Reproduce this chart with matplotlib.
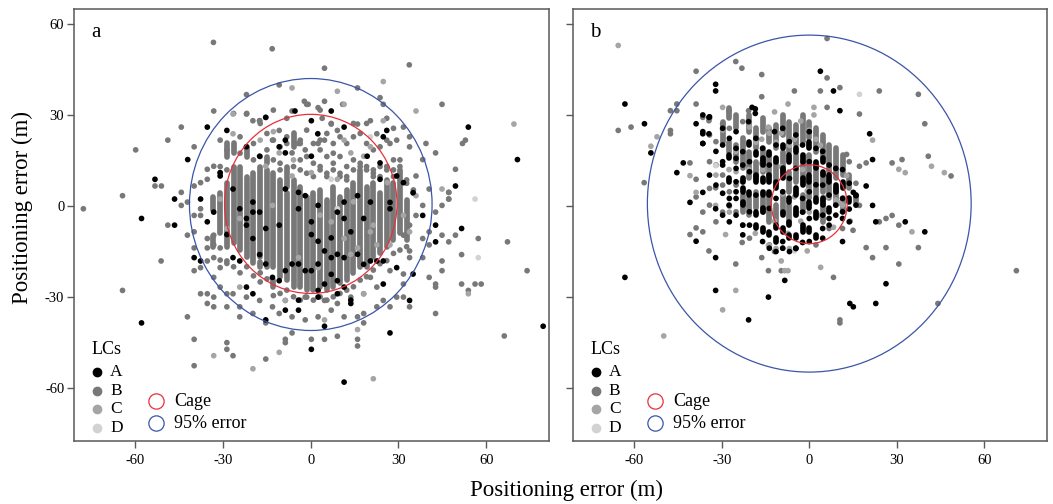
import matplotlib
matplotlib.use("Agg")
import matplotlib.pyplot as plt
from matplotlib.patches import Circle

plt.rcParams['font.family'] = ['Liberation Serif', 'DejaVu Serif']
plt.rcParams['axes.unicode_minus'] = False

# ---------------- DATA ----------------
lc_colors = {"A": "#000000", "B": "#787878", "C": "#a5a5a5", "D": "#d2d2d2"}
x_ticks = [-60, -30, 0, 30, 60]
y_ticks = [-60, -30, 0, 30, 60]
panel_labels = ["a", "b"]

# circles: (center_x, center_y, radius)
cage_a = (0.0, 0.7, 29.5)
err95_a = (0.0, 0.5, 41.5)
cage_b = (0.0, 0.6, 13.0)
err95_b = (0.0, 0.8, 55.5)

# ---- panel a: stacked columns of class B fixes (x, y_low, y_high) ----
a_B_runs_x = [-33.3, -33.3, -31.0, -28.7, -28.7, -26.4, -26.4, -24.2, -21.9, -21.9, -19.6,
              -17.3, -17.3, -15.0, -15.0, -12.8, -12.8, -10.5, -8.2, -8.2, -5.9, -5.9, -3.6,
              -1.4, 0.9, 3.2, 5.5, 7.7, 10.0, 12.3, 14.6, 16.9, 19.1, 21.4, 23.7, 26.0, 28.3,
              30.5, 32.8]
a_B_runs_lo = [-1.3, -13.4, -9.0, -13.4, 16.3, -12.3, 17.4, -14.5, -16.7, 16.3, -18.9,
               -16.7, -20.2, -20.0, 14.1, -20.0, -26.6, -23.3, -24.4, 6.4, -26.6, 19.5, -26.6,
               -27.7, -27.7, -26.6, -27.7, -26.6, -25.5, -24.4, -22.2, -20.0, -20.0, -16.7, -15.6,
               -13.4, -11.2, -9.0, -11.2]
a_B_runs_hi = [3.1, -10.0, 4.2, 7.5, 20.6, 13.0, 20.6, 13.0, 9.7, 19.5, 10.8,
               13.0, -18.5, 11.9, 16.3, 10.8, -24.4, 8.6, 4.2, 13.0, 8.6, 23.9, 6.4,
               3.1, 4.2, 5.3, 2.0, 6.4, 3.1, 5.3, 7.5, 11.9, 6.4, 7.5, 4.2,
               8.6, 7.5, 11.9, 2.0]

# ---- panel a: individual fixes ----
a_B_x = [-33.3, -13.2, 4.7, 33.7, -10.8, 16.0, -22.0, -2.2, -0.9, 4.7, 2.5, 23.7, 24.8, 44.9,
         -33.2, -22.0, -15.4, -17.5, -6.4, -44.3, 52.9, 51.9, 39.4, 33.8, 33.8, 42.7, 49.5,
         47.2, 47.2, -48.9, -59.9, -39.9, -53.3, -51.1, -64.4, -77.8, -48.9, -44.3, -44.3,
         -51.2, -64.4, -42.2, -39.9, -39.9, -28.7, -28.7, -26.6, -15.4, -8.7, -8.7, -6.4, 0.2,
         4.7, 9.1, 16.0, 16.0, 18.1, 42.7, 33.8, 31.7, 42.7, 42.7, 44.9, 44.9, 40.5, 51.6,
         53.9, 56.2, 58.3, 51.6, 49.5, 57.3, 67.3, 74.0, 66.2,
         -42.2, -39.9, -39.9, -37.7, -35.4, -33.2, -33.2, -35.4, -37.7, -28.7, -26.6, -24.3,
         -24.3, -39.9, -35.4, -35.4, -37.7, -39.9, -35.4, -37.7, -35.4, -33.2, -39.9, -37.7,
         -42.2, -31.0, -28.7, -19.8, -17.5, -13.1, -10.8, -4.2, -6.4, -1.9, 2.5, 4.7, 7.0,
         9.1, 16.0, 20.4, 22.6, 27.1, 29.4, 31.7, 38.3, 36.0, 40.5, 38.3, 36.0, 33.8, 31.7,
         33.8, 38.3, 40.5, 40.5, 44.9, 47.2, 47.2, 47.2, 44.9, 42.7, 38.3, 33.8, 31.7, 29.4,
         27.1, 24.8, 22.6, 18.1, 16.0, 11.4, 7.0, 2.5, -1.9, -6.4, -10.8, -15.4, -19.8, -22.0,
         -17.5, -13.1, -8.7, -1.9, 4.7, 9.1, 13.7, 18.1, 22.6, 20.4, 27.1, 31.7, -28.7, -31.0,
         -33.2, -31.0, -28.7, -33.2, -35.4, -31.0, -33.2, -33.2,
         # upper part of the cloud
         -26.4, -21.9, -17.3, -12.8, -8.2, -1.4, 3.2, 3.9, 7.0, 10.9, 14.6, 19.1, 26.0, 28.3,
         -24.2, -19.6, -15.0, -15.0, -12.8, -10.5, -8.2, -8.2, -3.6, -3.6, -1.4, 0.9, 3.2,
         3.2, 5.5, 7.7, 7.7, 10.0, 12.3, 14.6, 16.9, 19.1, 21.4, 23.7, 26.0, 28.3, 30.5,
         -31.0, -31.0, -28.7, -24.2, -19.6, -17.3, -12.8, -10.5, -10.5, -5.9, -3.6, -3.6,
         -1.4, -1.4, 0.9, 0.9, 3.2, 3.2, 5.5, 5.5, 5.5, 7.7, 7.7, 10.0, 10.0, 10.0, 12.3,
         12.3, 12.3, 14.6, 14.6, 16.9, 16.9, 19.1, 19.1, 21.4, 21.4, 21.4, 23.7, 23.7, 26.0,
         26.0, 28.3, 28.3, 30.5, 32.8, 32.8, 35.1, 35.1,
         # lower part of the cloud
         -31.0, -28.7, -26.4, -24.2, -21.9, -19.6, -17.3, -17.3, -15.0, -12.8, -10.5, -8.2,
         -5.9, -3.6, -1.4, 0.9, 3.2, 5.5, 7.7, 10.0, 12.3, 14.6, 16.9, 19.1, 21.4, 23.7, 26.0,
         28.3, 30.5, 32.8]
a_B_y = [53.9, 51.8, 45.4, 46.5, 39.9, 38.9, 36.7, 34.5, 33.5, 34.5, 32.4, 35.7, 33.5, 33.5,
         31.3, 30.3, 29.2, 28.1, 31.3, 26.0, 21.7, 20.6, 20.6, 22.8, 19.5, 17.5, 12.1,
         4.5, 2.3, 21.7, 18.5, 19.5, 6.6, 6.6, 3.4, -0.9, -6.3, 4.5, 0.2,
         -18.1, -27.8, -36.5, -43.9, -52.6, -45.0, -47.2, -49.3, -50.4, -43.9, -45.0, -41.8, -43.9,
         -43.9, -42.9, -43.9, -46.1, -38.5, -35.4, -33.2, -30.0, -26.7, -25.7, -18.1, -21.3, -23.5, -25.7,
         -27.8, -25.7, -25.7, -16.0, -9.6, -10.7, -11.8, -21.3, -42.8,
         -9.6, -8.5, -13.8, -20.3, -28.9, -30.0, -33.2, -32.1, -28.9, -33.2, -28.9, -36.5,
         -33.2, -21.3, -13.8, -10.7, -3.1, -3.1, 8.8, 7.7, 12.1, 13.1, 6.6, -0.9,
         1.3, 21.7, 18.5, 28.1, 28.1, 21.7, 24.9, 20.6, 17.5, 18.5, 20.6, 21.7, 27.0,
         24.9, 27.0, 28.1, 23.8, 20.6, 21.7, 26.0, 15.3, 9.9, 5.6, 0.2, -3.1, -6.3, -9.6,
         -14.8, -10.7, -8.5, -12.8, -9.6, -11.8, 2.3, 4.5, 0.2, -2.0, -17.0, -17.0, -25.7, -30.0,
         -33.2, -31.1, -33.2, -35.4, -36.5, -36.5, -34.3, -36.5, -37.5, -36.5, -35.4, -38.5, -35.4, -30.0,
         -31.1, -33.2, -31.1, -30.0, -31.1, -32.1, -30.0, -28.9, -26.7, -23.5, -21.3, -22.4, -28.9, -26.7,
         -23.5, -20.3, -18.1, -17.0, -18.1, -13.8, -9.6, -12.8,
         30.5, 30.5, 27.2, 31.6, 28.9, 33.5, 31.6, 28.9, 27.2, 33.5, 27.2, 27.2, 28.9, 25.6,
         22.8, 20.6, 23.9, 18.5, 21.7, 19.5, 22.8, 20.6, 21.7, 20.6, 25.0, 20.6, 21.7,
         18.5, 23.9, 20.6, 17.4, 22.8, 20.6, 22.8, 23.9, 20.6, 18.5, 19.5, 21.7, 15.2, 13.0,
         13.0, 10.8, 11.9, 17.4, 15.2, 16.3, 15.2, 14.1, 11.9, 13.0, 15.2, 11.9,
         16.3, 10.8, 14.1, 9.7, 13.0, 11.9, 16.3, 10.8, 9.7, 14.1, 11.9, 16.3, 10.8, 9.7, 13.0,
         9.7, 8.6, 15.2, 11.9, 14.1, 13.0, 13.0, 11.9, 11.9, 10.8, 9.7, 13.0, 9.7, 13.0,
         11.9, 11.9, 9.7, 15.2, 8.6, 7.5, 5.3, 4.2,
         -17.8, -18.9, -20.0, -22.0, -20.0, -23.0, -22.0, -25.0, -24.0, -29.5, -28.8, -27.7,
         -29.9, -31.0, -30.0, -31.0, -29.9, -31.0, -29.9, -28.8, -27.7, -26.6, -24.4, -23.3, -21.1,
         -19.0, -18.0, -15.6, -14.5, -13.4]

a_C_x = [-6.4, 24.8, 9.1, 11.4, 36.0, -26.6, -26.6, 69.5, 44.9, 53.9, -33.2, -19.8, -10.8, 16.0,
         21.4, 24.8, 11.4, 13.7, 18.1, 20.4, 26.2, 9.1, 0.2, -6.4, -19.8, -13.1, 7.0, 11.4,
         16.0, 20.4, 22.6, -28.7, -24.3, 2.5, 9.1, 18.1, -4.2, 13.7, -15.4, -10.8, -22.0, 33.8,
         31.7, 36.0, -8.7, -31.0, 4.7, -24.3, 27.1, -12.8, -5.9, 3.2, 14.6, 21.4, -17.3]
a_C_y = [38.9, 41.0, 37.8, 33.5, 31.3, 30.3, 23.8, 27.0, 5.6, -28.9, -49.3, -53.6, -48.2, -40.7,
         -56.9, 28.1, 21.7, 17.5, 16.4, 19.5, 7.7, 8.8, 11.0, 9.9, -10.7, 0.2, -5.2, -10.7,
         -13.8, -8.5, -12.8, -7.4, -4.1, -20.3, -24.6, -28.9, -17.0, -15.9, 13.1, 17.5, 19.5, -8.5,
         -3.1, 3.4, -31.1, 2.3, -37.5, -26.7, -12.8, 24.5, 15.2, -3.0, 1.4, -6.3, 21.7]

a_D_x = [56.2, 57.3, 7.0, 20.4, 9.1]
a_D_y = [2.3, -17.0, 8.8, 22.8, -0.9]

a_A_x = [-15.4, 0.2, -8.7, -10.8, -8.7, 0.2, -17.5, -22.0, -31.0, -31.0, -26.6, -19.8, -19.8,
         -22.0, -24.3, -17.5, -15.4, -10.8, -8.7, -4.2, -4.2, -1.9, 0.2, 2.5, 0.2, 2.5, 4.7,
         7.0, 9.1, 11.4, 11.4, 13.7, 16.0, 18.1, 20.4, 16.0, 11.4, 9.1, 7.0, 2.5, 0.2, -1.9,
         -4.2, -6.4, -8.7, -10.8, -13.1, -15.4, -17.5, -19.8, -22.0, -24.3, -26.6, -28.7,
         -35.4, -37.7, -33.2, -22.0, -19.8, -15.4, -8.7, -4.2, -4.2, 2.5, 2.5, 4.7, 7.0, 9.1,
         9.1, 11.4, 13.7, 13.7, 18.1, 20.4, 22.6, 24.8, 24.8, 27.1, 27.1, 23.7, 23.7, 26.0,
         19.3, 29.4, 31.7, 35.0, 24.8, 11.4, 2.4, 7.0, -5.4, -28.7, -35.4, -42.1, -53.3,
         -57.9, -46.6, -46.6, -39.9, -37.7, -57.9, 0.2, 4.7, 11.4, 27.1, 33.8, 35.0, 29.4,
         42.7, 42.7, 38.3, 49.5, 51.6, 53.9, 70.7, 79.5]
a_A_y = [29.2, 28.1, 21.7, 19.5, 17.5, 16.4, 16.4, 19.5, 11.0, 9.9, 5.6, 1.3, -2.0,
         -4.1, -0.9, -2.0, -7.4, -6.3, 5.6, 4.5, -0.9, 3.4, -5.2, 0.2, -9.4, -11.6, -14.8,
         -10.5, -2.0, 1.3, -4.1, -8.5, 3.4, -4.1, 1.3, -15.9, -17.0, -15.9, -17.0, -19.1, -21.3, -21.3,
         -19.1, -19.1, -21.3, -24.6, -23.5, -19.1, -16.0, -10.7, -6.3, -18.1, -17.0, -9.4,
         -5.2, 2.3, -2.0, -26.7, -28.9, -37.5, -34.3, -31.0, -34.3, -30.0, -27.8, -25.7, -22.5, -24.6,
         -28.9, -26.7, -31.0, -32.1, -19.2, -18.1, -18.1, -18.1, -25.7, 1.2, -0.9, 8.8, 14.2, 24.9,
         16.4, 9.9, 7.7, 4.4, 22.8, 26.0, 23.8, 31.3, 31.3, 24.9, 26.0, 15.3, 8.8,
         -4.1, 2.3, -6.3, -17.0, -18.1, -38.5, -47.2, -39.6, -58.0, -41.8, -31.1, -22.4, -20.3,
         -6.3, -11.8, -3.1, 6.6, -7.4, 26.0, 15.3, -39.6]

# ---- panel b: stacked columns ----
b_B_runs_x = [-29.7, -27.4, -27.4, -25.1, -25.1, -22.8, -22.8, -20.5, -20.5, -20.5, -18.3,
              -18.3, -18.3, -16.0, -16.0, -16.0, -13.7, -13.7, -13.7, -11.4, -11.4, -11.4,
              -9.1, -9.1, -9.1, -6.8, -6.8, -6.8, -4.6, -4.6, -2.3, -2.3, -2.3, 0.0, 0.0, 0.0,
              2.3, 2.3, 4.6, 4.6, 4.6, 6.8, 6.8, 9.1, 9.1, 11.4, 11.4, 13.7, 16.0]
b_B_runs_lo = [21.2, 28.9, 17.9, 25.6, 14.6, 12.4, -1.9, 24.5, 9.1, -3.0, 19.0,
               9.1, -0.8, 24.5, 11.3, -1.9, 21.2, 10.2, -5.2, 19.0, 8.0, -5.2,
               23.4, 11.3, -1.9, 17.9, 4.7, -5.2, 20.1, 8.0, 21.2, 9.1, -1.9, 22.3, 11.3, 2.5,
               17.9, 3.6, 15.7, 4.7, -5.2, 11.3, 2.5, 9.1, 0.3, 10.2, -1.9, 5.8, 1.4]
b_B_runs_hi = [27.8, 32.2, 21.2, 30.0, 20.1, 22.3, 3.6, 30.0, 17.9, 2.5, 25.6,
               14.6, 4.7, 28.9, 19.0, 2.5, 25.6, 16.8, 3.6, 26.7, 14.6, 0.3,
               30.0, 17.9, 3.6, 27.8, 11.3, 0.3, 26.7, 16.8, 30.0, 14.6, 3.6, 27.8, 16.8, 8.0,
               25.6, 12.4, 23.4, 10.2, 0.3, 20.1, 8.0, 19.0, 5.8, 16.8, 2.5, 10.2, 3.6]

b_A_runs_x = [-27.4, -27.4, -22.8, -22.8, -22.8, -20.5, -20.5, -18.3, -18.3, -18.3, -18.3,
              -16.0, -16.0, -16.0, -16.0, -16.0, -13.7, -13.7, -13.7, -13.7, -11.4, -11.4,
              -11.4, -11.4, -9.1, -9.1, -9.1, -9.1, -6.8, -6.8, -6.8, -6.8, -4.6, -4.6, -4.6,
              -4.6, -2.3, -2.3, -2.3, 0.0, 0.0, 0.0, 0.0, 2.3, 2.3, 2.3, 2.3, 4.6, 4.6, 4.6,
              6.8, 6.8, 9.1, 11.4, 13.7]
b_A_runs_lo = [8.0, 15.7, 0.3, 4.7, 8.0, 20.1, 3.6, 16.8, 8.0, -3.0, -7.4,
               13.5, 8.0, 3.6, -1.9, -8.4, 16.8, 8.0, 3.6, -9.5, 14.6, 5.8,
               -11.7, -7.4, 19.0, 9.1, -3.0, -8.4, 14.6, 1.4, -10.6, -6.3, 17.9, 3.6, -3.0,
               -10.6, 14.6, 6.9, -8.4, 19.0, 8.0, -0.8, -8.4, 12.4, -4.1, 1.4, -10.6, 10.2, 14.6, 0.3,
               8.0, -1.9, 4.7, 5.8, 1.4]
b_A_runs_hi = [9.1, 16.8, 1.4, 5.8, 9.1, 21.2, 4.7, 17.9, 10.2, -1.9, -6.3,
               15.7, 9.1, 4.7, -0.8, -7.3, 17.9, 10.2, 4.7, -8.4, 15.7, 8.0,
               -10.6, -6.3, 20.1, 12.4, -1.9, -7.3, 16.8, 2.5, -9.5, -5.2, 19.0, 5.8, -0.8,
               -9.5, 16.8, 9.1, -6.3, 21.2, 10.2, 1.4, -7.3, 14.6, -1.9, 2.5, -9.5, 11.3, 15.7, 2.5,
               10.2, -0.8, 6.9, 8.0, 2.5]

b_B_x = [6.1, -25.2, -23.1, -38.8, -16.3, 6.1, -5.1, 3.8, 10.5, 24.0, 37.4, -45.4, -45.4,
         -47.6, -38.8, -27.5, -20.8, 6.1, 17.2, -65.5, -61.1, -47.6, -47.6, -36.5, -34.4,
         -40.9, -38.8, -56.6, -36.5, -40.9, -38.8, -36.5, -25.2, -14.0, -9.6, 8.3, 10.5, 10.5,
         30.7, 44.1, 71.0, 37.4, 26.3, 21.7, 19.5, 30.7, 28.4, 26.3, 24.0, 17.2, 19.5, 17.2,
         28.4, 31.8, 40.8, 48.6, 39.6, -34.4, -16.3, -11.9, -23.0, -32.1, -29.7, -38.8, 14.0,
         15.0, 12.8, -34.2, -34.2, -16.3, -27.4, -22.8, -22.8, -29.7, -32.0, -20.5, -13.7,
         -9.1, -4.6, 2.3, 6.8, 11.4, 13.7, 16.0,
         -34.2, -34.2, -32.0, -29.7, -29.7, -27.4, -27.4, -25.1, -25.1, -34.2, -32.0]
b_B_y = [55.2, 47.6, 45.4, 44.4, 43.3, 42.2, 37.9, 37.9, 39.0, 37.9, 36.8, 33.6, 31.4,
         31.4, 33.6, 31.4, 31.4, 32.5, 30.3, 24.9, 26.0, 24.9, 23.8, 29.2, 28.1,
         14.2, 8.8, 7.7, -2.0, -9.4, -7.2, -8.5, -19.1, -21.3, -21.3, -23.5, -37.5, -38.5,
         -19.1, -32.1, -21.3, -13.7, -13.7, -17.0, -13.7, -6.3, -3.1, -4.1, -5.2, 0.2, 14.2, 13.1,
         14.2, 15.3, 16.4, 9.9, 27.1, -14.8, -17.0, -15.0, -12.0, 6.0, 27.0, 3.0, -5.0,
         -8.0, 17.0, 28.9, 23.4, 36.0, 4.7, -6.3, 27.8, -2.0, 13.5, -10.6, -12.8,
         -13.9, -13.9, -12.8, -7.4, -7.4, 14.6, 7.5,
         5.8, 14.6, 21.2, 10.2, 6.9, 0.0, 25.6, -1.9, 6.9, 0.3, -5.2]

b_C_x = [-65.5, -29.7, -7.3, 1.6, -52.2, -54.3, -40.9, -38.8, -32.1, -28.7, -25.2, -29.7,
         -49.9, -9.6, -7.3, 3.9, 35.2, 30.7, 32.9, 46.3, 41.9, 21.7, -8.4, -0.7,
         -16.3, -14.0, -11.9, -9.6, -5.1, -2.9, 1.6, 3.8, -20.8, -25.2, -27.5, -29.7, -23.0,
         -18.5, -14.0, -11.9, -7.3, -5.1, -2.9, -0.7, 3.8, 6.1, 8.3, 10.5, 12.8, -16.3, -9.6,
         -32.0, -32.0, -25.1, -18.3, -16.0, -13.7, -11.4, -6.8, -4.6, -2.3, 0.0, 2.3,
         -9.1, -4.6, 0.0, 4.6, 9.1, -13.7, -11.4, -6.8, -2.3, 11.4, -20.5, -27.4]
b_C_y = [52.9, 32.5, 33.6, 32.5, 22.8, 19.7, 10.0, 4.5, 0.2, -9.4, -27.8, -34.2,
         -42.8, -18.1, -21.3, -20.2, -8.5, 12.1, 11.0, 11.0, 13.1, 21.7, -21.3, -14.8,
         22.0, 26.0, 31.0, 24.0, 22.0, 28.0, 30.0, 20.0, 12.0, 18.0, 12.0, 25.0, 8.0,
         -9.0, -13.0, -5.0, -9.0, 3.0, -5.0, 5.0, -3.0, 3.0, -7.0, 1.0, 10.0, 14.0, 13.0,
         13.5, 10.2, 11.3, 21.0, 12.0, 24.0, 21.0, 20.0, 23.0, 12.0, 25.0, 22.0,
         4.0, -3.0, -2.0, 2.0, 2.0, -13.0, -14.0, -14.0, -12.0, 0.3, 26.0, -2.0]

b_D_x = [17.2, -32.1, -5.1]
b_D_y = [36.8, 13.3, -14.8]

b_A_x = [-63.2, -56.5, -38.8, -34.4, -36.5, -34.4, -36.5, -54.3, -43.2, -45.4, -36.5, -40.9,
         -32.1, -38.8, -32.1, -63.2, -32.1, -20.8, -14.0, -8.4, 13.9, 15.1, 22.8, 26.3, 39.6,
         32.9, 22.8, 21.7, 19.5, 15.1, 16.0, 21.7, 20.7, -32.1, -32.1, 3.8, 8.3, -19.6, 10.5,
         -36.5, -36.5, -36.5, -34.2, -29.7, -29.7, -29.7, -29.7, -25.1, -25.1, -25.1, -25.1,
         -25.1, -22.8, -20.5, -20.5, -9.1, -4.6, 4.6, 4.6, 6.8, 11.4, 11.4, 13.7, 16.0, 16.0,
         -18.5, -18.5, -20.8, -11.9, -27.5,
         -34.2, -32.0, -32.0, -29.7, -29.7, -27.4, -27.4, -25.1, -25.1, -22.8, -22.8, -22.8,
         -20.5, -20.5, -18.3, -18.3, -16.0, -16.0, -13.7, -13.7, -13.7, -11.4, -11.4, -11.4,
         -9.1, -9.1, -9.1, -6.8, -6.8, -6.8, -4.6, -4.6, -4.6, -2.3, -2.3, -2.3, -2.3, 0.0,
         0.0, 0.0, 0.0, 0.0, 2.3, 2.3, 4.6, 4.6, 4.6, 6.8, 6.8, 6.8, 9.1, 9.1, 9.1, 11.4, 11.4,
         11.4, 13.7, 13.7, -25.1, -27.4]
b_A_y = [33.6, 27.1, 27.1, 29.2, 23.8, 23.8, 20.6, 17.5, 14.2, 11.0, 4.5, 1.2,
         -0.9, -11.6, -17.0, -23.5, -27.8, -37.5, -30.0, -24.5, -32.1, -33.2, -32.1, -25.6, -8.5,
         -5.2, -5.2, 0.2, 6.6, 4.5, 3.4, 15.3, 23.8, 40.1, 37.9, 44.4, 37.9, 32.5, 31.4,
         30.0, 24.5, 20.6, 29.4, 25.6, 14.6, 13.5, 4.2, 24.5, 15.7, 12.4, 4.7, 2.5,
         -6.3, 14.6, -1.9, -11.7, -13.9, -7.4, -10.6, -6.3, -4.1, -11.7, -5.2, 3.6, 0.3,
         32.0, 30.5, 27.8, 24.5, 0.3,
         10.2, 6.9, 18.0, 20.1, -3.0, 2.5, -5.2, 8.0, -3.0, 13.5, 17.9, -9.5,
         11.3, -6.3, 22.3, 3.6, 19.0, -11.7, 13.5, -0.8, -13.9, 20.1, 2.5, -15.0,
         25.6, 4.7, -13.9, 21.2, 9.1, -15.0, 23.4, 12.4, -14.0, 20.1, 2.5, -2.0, -12.0, 24.5,
         14.6, 4.7, -4.1, -11.7, 19.0, 7.0, 18.0, 6.9, -3.0, 13.5, 3.6, -4.1, 12.4, 0.3, -3.0, 12.0, 2.5,
         -1.9, 7.5, -1.0, 19.0, 22.3]

# ---------------- FIGURE ----------------
W, H = 1053, 504
fig = plt.figure(figsize=(W / 100, H / 100), dpi=100)
frame_col = "#595959"
red_col = "#e8303a"
blue_col = "#3b55a8"
dot_pt = 4.1
dot_s = dot_pt ** 2

def px_axes(l, r, t, b):
    return fig.add_axes([l / W, 1 - b / H, (r - l) / W, (b - t) / H])

ax_a = px_axes(74, 549, 9, 441)
ax_b = px_axes(573, 1047, 9, 441)

def draw_runs(ax, xs, los, his, color, z):
    ax.vlines(xs, los, his, colors=color, linewidth=dot_pt, capstyle='round', zorder=z)

def draw_pts(ax, xs, ys, color, z):
    ax.scatter(xs, ys, s=dot_s, c=color, edgecolors='none', zorder=z)

def draw_circle(ax, c, color):
    ax.add_patch(Circle((c[0], c[1]), c[2], fill=False, edgecolor=color, linewidth=0.9, zorder=10))

# panel a
draw_runs(ax_a, a_B_runs_x, a_B_runs_lo, a_B_runs_hi, lc_colors["B"], 2)
draw_pts(ax_a, a_B_x, a_B_y, lc_colors["B"], 2)
draw_pts(ax_a, a_C_x, a_C_y, lc_colors["C"], 3)
draw_pts(ax_a, a_D_x, a_D_y, lc_colors["D"], 3)
draw_pts(ax_a, a_A_x, a_A_y, lc_colors["A"], 4)
draw_circle(ax_a, cage_a, red_col)
draw_circle(ax_a, err95_a, blue_col)

# panel b
draw_runs(ax_b, b_B_runs_x, b_B_runs_lo, b_B_runs_hi, lc_colors["B"], 2)
draw_pts(ax_b, b_B_x, b_B_y, lc_colors["B"], 2)
draw_pts(ax_b, b_C_x, b_C_y, lc_colors["C"], 3)
draw_pts(ax_b, b_D_x, b_D_y, lc_colors["D"], 3)
draw_runs(ax_b, b_A_runs_x, b_A_runs_lo, b_A_runs_hi, lc_colors["A"], 4)
draw_pts(ax_b, b_A_x, b_A_y, lc_colors["A"], 4)
draw_circle(ax_b, cage_b, red_col)
draw_circle(ax_b, err95_b, blue_col)

for i, ax in enumerate([ax_a, ax_b]):
    ax.set_xlim(-81, 81.5)
    ax.set_ylim(-77.4, 64.9)
    ax.set_xticks(x_ticks)
    ax.set_yticks(y_ticks)
    ax.set_xticklabels([str(v) for v in x_ticks])
    if i == 0:
        ax.set_yticklabels([str(v) for v in y_ticks])
    else:
        ax.set_yticklabels([])
    ax.tick_params(direction='out', length=5, width=1, color=frame_col,
                   labelsize=10.5, pad=2)
    ax.tick_params(axis='x', pad=4)
    for sp in ax.spines.values():
        sp.set_color(frame_col)
        sp.set_linewidth(1.1)
    ax.text(0.036, 0.945, panel_labels[i], transform=ax.transAxes, fontsize=15,
            ha='left', va='center')
    # LCs legend
    ax.text(0.036, (441 - 350) / 432, "LCs", transform=ax.transAxes, fontsize=13,
            ha='left', va='center')
    rows = [372, 391, 409, 428]
    for lab, py in zip(["A", "B", "C", "D"], rows):
        ay = (441 - py) / 432
        ax.plot([23 / 475], [ay], marker='o', ms=6, color=lc_colors[lab],
                transform=ax.transAxes, clip_on=False, zorder=12, linestyle='none')
        ax.text(36 / 475, ay, lab, transform=ax.transAxes, fontsize=12.5,
                ha='left', va='center')
    for lab, py, col in [("Cage", 401, red_col), ("95% error", 423, blue_col)]:
        ay = (441 - py) / 432
        ax.plot([82 / 475], [ay], marker='o', ms=11, mfc='none', mec=col, mew=0.9,
                transform=ax.transAxes, clip_on=False, zorder=12, linestyle='none')
        ax.text(100 / 475, ay, lab, transform=ax.transAxes, fontsize=13,
                ha='left', va='center')

fig.text(567 / W, 1 - 490 / H, "Positioning error (m)", ha='center', va='center', fontsize=16.5)
fig.text(22 / W, 1 - 208 / H, "Positioning error (m)", ha='center', va='center',
         fontsize=16.5, rotation=90)

fig.savefig("out.png", dpi=100)
